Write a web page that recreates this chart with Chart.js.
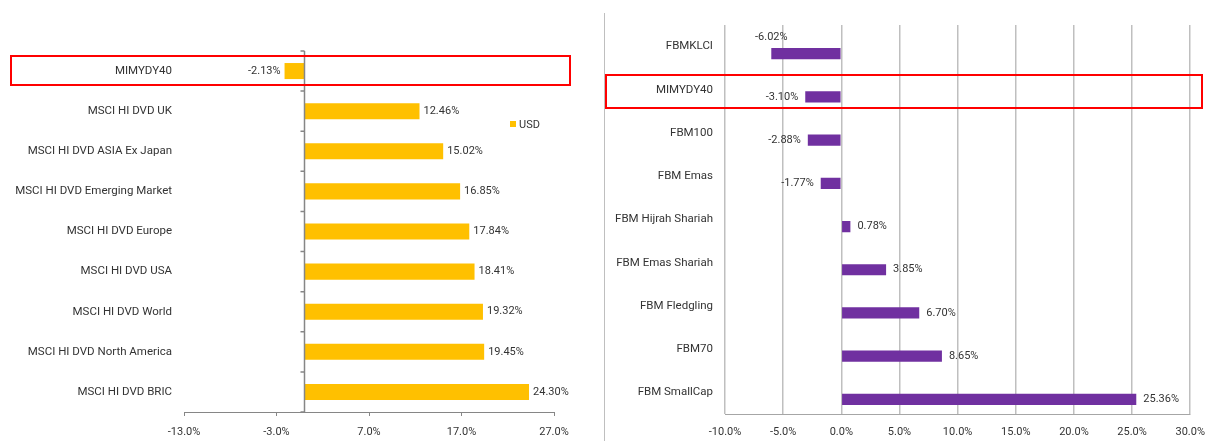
<!DOCTYPE html>
<html>
<head>
<meta charset="utf-8">
<script src="https://cdn.jsdelivr.net/npm/chart.js@4.4.1/dist/chart.umd.min.js"></script>
<style>
  body { margin: 0; background: #fff; width: 1206px; height: 441px; position: relative; overflow: hidden; }
  #boxL { position: absolute; left: 0; top: 0; width: 604px; height: 441px; }
  #boxR { position: absolute; left: 604px; top: 0; width: 602px; height: 441px; }
  .frame { position: absolute; left: 604px; top: 13px; height: 428px; border-left: 1px solid #bfbfbf; }
  .hl { position: absolute; border: 2px solid #ff0000; box-sizing: border-box; }
  .legend { position: absolute; left: 510px; top: 118px; font: 11px Roboto, sans-serif; color: #333; }
  .legend span { display: inline-block; width: 6px; height: 6px; background: #FFC000; margin-right: 3px; vertical-align: 1px; }
</style>
</head>
<body>
<div id="boxL"><canvas id="leftChart"></canvas></div>
<div id="boxR"><canvas id="rightChart"></canvas></div>
<div class="frame"></div>
<div class="legend"><span></span>USD</div>
<div class="hl" style="left:10px;top:55px;width:561px;height:31px"></div>
<div class="hl" style="left:605px;top:74px;width:598px;height:35px"></div>
<script>
// dane - lewy wykres (USD)
const leftLabels = ['MIMYDY40', 'MSCI HI DVD UK', 'MSCI HI DVD ASIA Ex Japan', 'MSCI HI DVD Emerging Market',
  'MSCI HI DVD Europe', 'MSCI HI DVD USA', 'MSCI HI DVD World', 'MSCI HI DVD North America', 'MSCI HI DVD BRIC'];
const leftValues = [-2.13, 12.46, 15.02, 16.85, 17.84, 18.41, 19.32, 19.45, 24.30];
const leftTicks = [-13, -3, 7, 17, 27];

// dane - prawy wykres
const rightLabels = ['FBMKLCI', 'MIMYDY40', 'FBM100', 'FBM Emas', 'FBM Hijrah Shariah', 'FBM Emas Shariah',
  'FBM Fledgling', 'FBM70', 'FBM SmallCap'];
const rightValues = [-6.02, -3.10, -2.88, -1.77, 0.78, 3.85, 6.70, 8.65, 25.36];
const rightTicks = [-10, -5, 0, 5, 10, 15, 20, 25, 30];

const FONT = 'Roboto, sans-serif';
const TEXT = '#333333';
const pct1 = v => Number(v).toFixed(1) + '%';

// etykiety wartosci przy slupkach
const valueLabels = {
  id: 'valueLabels',
  afterDatasetsDraw(chart, args, opts) {
    const meta = chart.getDatasetMeta(opts.dataset);
    const vals = chart.data.datasets[opts.dataset].data;
    const ctx = chart.ctx;
    ctx.save();
    ctx.font = '11px ' + FONT;
    ctx.fillStyle = TEXT;
    ctx.textBaseline = 'middle';
    meta.data.forEach((bar, i) => {
      const v = vals[i];
      const txt = v.toFixed(2) + '%';
      if (opts.above && opts.above.includes(i)) {
        ctx.textAlign = 'center';
        ctx.fillText(txt, bar.x, bar.y - 16);
      } else if (v < 0) {
        ctx.textAlign = 'right';
        ctx.fillText(txt, bar.x - opts.gap, bar.y);
      } else {
        ctx.textAlign = 'left';
        ctx.fillText(txt, bar.x + opts.gap, bar.y);
      }
    });
    ctx.restore();
  }
};

// os kategorii w punkcie 0 (lewy wykres)
const zeroAxis = {
  id: 'zeroAxis',
  afterDatasetsDraw(chart) {
    const xs = chart.scales.x, ys = chart.scales.y;
    const x0 = Math.round(xs.getPixelForValue(0)) + 0.5;
    const half = (ys.getPixelForValue(1) - ys.getPixelForValue(0)) / 2;
    const ctx = chart.ctx;
    ctx.save();
    ctx.strokeStyle = '#868686';
    ctx.lineWidth = 1.5;
    ctx.beginPath();
    ctx.moveTo(x0, ys.top);
    ctx.lineTo(x0, ys.bottom);
    for (let i = 0; i <= leftLabels.length; i++) {
      const y = ys.getPixelForValue(i) - half;
      ctx.moveTo(x0 - 4, y);
      ctx.lineTo(x0, y);
    }
    ctx.stroke();
    ctx.restore();
  }
};

new Chart(document.getElementById('leftChart').getContext('2d'), {
  type: 'bar',
  data: {
    labels: leftLabels,
    datasets: [{
      label: 'USD',
      data: leftValues,
      backgroundColor: '#FFC000',
      barPercentage: 1,
      categoryPercentage: 0.4
    }]
  },
  options: {
    indexAxis: 'y',
    responsive: true,
    maintainAspectRatio: false,
    animation: false,
    layout: { padding: { left: 0, top: 51, right: 50, bottom: 0 } },
    plugins: {
      legend: { display: false },
      tooltip: { enabled: false },
      valueLabels: { dataset: 0, gap: 4 }
    },
    scales: {
      x: {
        min: -13, max: 27,
        afterBuildTicks: s => { s.ticks = leftTicks.map(v => ({ value: v })); },
        afterFit: s => { s.height = 29; },
        grid: { drawOnChartArea: false, drawTicks: true, tickLength: 4, color: '#868686' },
        border: { color: '#868686', width: 1 },
        ticks: { callback: pct1, color: TEXT, font: { family: FONT, size: 11 }, padding: 10, maxRotation: 0 }
      },
      y: {
        afterFit: s => { s.width = 184; },
        grid: { display: false, drawTicks: false },
        border: { display: false },
        ticks: { color: TEXT, font: { family: FONT, size: 11.5 }, padding: 12 }
      }
    }
  },
  plugins: [valueLabels, zeroAxis]
});

new Chart(document.getElementById('rightChart').getContext('2d'), {
  type: 'bar',
  data: {
    labels: rightLabels,
    datasets: [{
      label: '',
      data: rightLabels.map(() => null),
      backgroundColor: 'transparent'
    }, {
      label: 'Return',
      data: rightValues,
      backgroundColor: '#7030A0'
    }]
  },
  options: {
    indexAxis: 'y',
    responsive: true,
    maintainAspectRatio: false,
    animation: false,
    datasets: { bar: { barPercentage: 0.8, categoryPercentage: 0.65 } },
    layout: { padding: { left: 0, top: 25, right: 11, bottom: 0 } },
    plugins: {
      legend: { display: false },
      tooltip: { enabled: false },
      valueLabels: { dataset: 1, gap: 7, above: [0] }
    },
    scales: {
      x: {
        min: -10, max: 30,
        afterBuildTicks: s => { s.ticks = rightTicks.map(v => ({ value: v })); },
        afterFit: s => { s.height = 27; },
        grid: { color: '#BFBFBF', lineWidth: 1.5, drawTicks: true, tickLength: 11, tickColor: 'rgba(0,0,0,0)' },
        border: { color: '#A6A6A6', width: 1 },
        ticks: { callback: pct1, color: TEXT, font: { family: FONT, size: 11 }, padding: 1, maxRotation: 0 }
      },
      y: {
        afterFit: s => { s.width = 121; },
        grid: { display: false, drawTicks: false },
        border: { display: false },
        ticks: { color: TEXT, font: { family: FONT, size: 11.5 }, padding: 12 }
      }
    }
  },
  plugins: [valueLabels]
});
</script>
</body>
</html>
